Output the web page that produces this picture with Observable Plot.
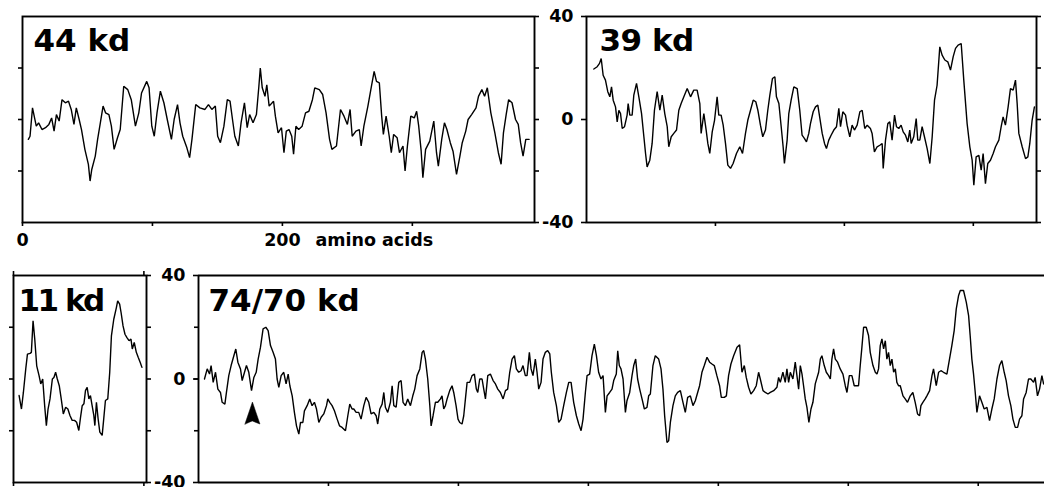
<!DOCTYPE html>
<html>
<head>
<meta charset="utf-8">
<script src="https://cdn.jsdelivr.net/npm/d3@7"></script>
<script src="https://cdn.jsdelivr.net/npm/@observablehq/plot@0.6"></script>
<style>
html, body { margin: 0; padding: 0; background: #fff; }
#chart { position: relative; width: 1044px; height: 487px; overflow: hidden; background: #fff; }
#chart svg { position: absolute; }
</style>
</head>
<body>
<div id="chart"></div>
<script>
// ---------- data (residue number, hydropathy value) ----------
const panelNames = ["44 kd", "39 kd", "11 kd", "74/70 kd"];
const panelLengths = [394, 349, 102, 651];
const yTicksLabeled = [-40, 0, 40];
const yTicksInner = [-20, 0, 20];
const yTicksAll = [-40, -20, 0, 20, 40];
const xTicksTop = [0, 100, 200, 300];
const xTicksLong = [100, 200, 300, 400, 500, 600];
const xTickLabels = [0, 200];
const xAxisTitle = "amino acids";
const arrowResidue = [41.5];
const arrowBaseValue = [-17.4];

const residues44 = [4.5,5.8,7.7,9.0,10.6,12.4,15.0,17.7,20.3,22.4,
24.3,26.1,28.2,30.4,33.0,35.4,37.5,39.6,41.4,43.6,
45.4,48.0,50.7,52.0,53.3,56.0,57.8,59.9,62.0,63.9,
66.5,68.4,70.5,73.1,75.2,77.9,81.0,83.7,86.9,89.5,
91.6,95.6,97.4,99.5,101.4,103.5,106.1,108.8,111.4,114.6,
116.7,119.3,121.2,123.3,126.5,128.6,130.4,133.3,136.5,140.4,
143.1,145.7,148.4,150.2,152.3,155.0,157.6,159.7,161.6,163.4,
166.1,168.2,170.8,172.9,174.8,177.4,180.0,181.9,183.0,184.5,
186.6,188.0,189.8,193.2,194.6,196.7,199.3,201.2,203.0,205.1,
207.2,208.6,210.4,212.5,215.2,217.8,220.4,223.1,224.9,228.4,
231.0,233.6,236.3,238.1,241.6,244.7,247.4,250.0,252.1,253.7,
256.6,259.2,260.6,262.7,265.8,268.5,270.6,272.4,274.6,276.4,
277.7,279.8,282.2,283.8,285.6,288.3,290.1,292.8,294.4,296.2,
298.8,301.5,303.3,304.9,306.8,308.1,310.2,313.4,316.5,318.6,
320.0,322.6,324.7,326.6,329.2,331.3,334.0,336.6,338.4,341.1,
342.9,345.6,349.0,350.9,353.5,355.6,357.7,360.4,363.5,366.2,
368.3,370.1,372.2,374.1,376.7,379.4,381.5,383.3,385.2,387.3,
389.9];
const hydro44 = [-7.7,-6.5,4.5,1.3,-2.6,-1.3,-3.9,-3.2,-1.9,0.6,
-4.5,1.9,-0.6,7.7,6.5,7.1,3.9,-1.9,4.5,0,
-3.9,-11.6,-17.4,-23.9,-19.4,-14.2,-7.7,-1.3,5.2,2.6,
1.9,-2.6,-11.6,-7.1,-3.9,12.9,11.6,7.7,-2.6,2.6,
10.3,14.8,12.3,-2.6,-6.5,2.6,11.0,6.5,0,-7.7,
0,5.8,-1.3,-6.5,-11.0,-14.8,-7.7,5.8,4.5,3.9,
5.8,3.9,5.2,-6.5,-9.0,-2.6,7.7,7.1,0,-6.5,
-10.3,-1.3,6.5,-3.2,1.9,-1.3,1.9,12.9,20.0,12.3,
9.0,13.5,5.2,7.1,1.3,-5.2,-3.2,-12.9,-4.5,-3.9,
-6.5,-13.5,-2.6,-3.9,-2.6,2.6,3.2,7.7,12.3,11.6,
9.7,2.6,-7.7,-11.6,-10.3,3.9,1.3,-1.9,3.9,-6.5,
-4.5,-3.9,-10.3,-2.6,5.2,12.9,18.7,14.8,14.2,1.3,
-5.8,1.3,-6.5,-12.9,-5.8,-7.1,-12.9,-10.3,-20.0,-10.3,
1.3,0.6,3.2,-2.6,-12.3,-22.6,-11.6,-8.4,-0.6,-12.9,
-18.1,-7.7,-1.3,-3.9,-9.0,-12.3,-21.3,-14.2,-9.0,-4.5,
0,1.9,4.5,9.0,11.6,9.0,12.3,2.6,-5.2,-12.9,
-17.4,-5.2,1.9,7.7,6.5,0,-1.9,-9.0,-14.2,-7.7,
-7.7];

const residues39 = [5.7,8.3,10.1,11.4,12.9,14.7,16.5,18.1,19.4,20.7,
22.5,23.8,25.1,26.4,27.7,29.5,31.5,32.3,33.6,35.4,
36.7,38.8,40.6,42.7,44.5,45.8,47.0,49.1,50.9,52.7,
54.8,56.9,58.7,60.7,62.6,63.8,65.7,67.7,69.8,71.6,
73.4,75.5,78.1,80.7,83.2,85.8,87.9,88.9,91.0,92.8,
94.1,95.6,97.5,99.3,101.3,102.6,104.4,106.0,107.8,109.6,
111.7,113.7,116.3,118.9,121.0,123.3,125.1,127.2,129.3,131.3,
132.9,134.9,136.7,138.8,140.6,142.2,144.2,146.1,147.3,149.2,
151.0,152.5,153.5,155.6,156.9,158.7,160.8,163.4,165.4,167.2,
169.1,170.6,172.4,173.7,175.8,177.6,179.4,181.0,182.8,184.6,
186.1,187.9,189.7,191.8,193.9,195.7,197.0,198.8,200.9,202.1,
204.2,206.0,207.8,209.9,212.0,213.8,215.8,217.7,220.2,221.5,
223.3,225.4,227.5,229.3,230.1,231.9,233.7,235.2,237.0,238.9,
240.4,242.2,244.0,245.6,247.4,249.2,250.7,251.8,253.8,255.7,
256.9,258.5,260.3,262.1,264.2,266.3,268.1,269.9,271.9,274.0,
275.8,277.9,280.2,282.3,284.4,286.2,288.2,290.6,292.6,295.2,
297.3,299.1,300.4,302.2,304.3,306.1,307.6,309.4,311.2,313.3,
315.4,317.2,319.8,321.6,323.1,324.9,327.0,328.8,330.9,332.7,
334.0,335.3,337.9,340.5,342.3,343.8,345.6,347.4];
const hydro39 = [19.6,20.5,21.8,23.7,17.2,15.3,10.8,8.8,12.7,7.5,
4.9,-0.9,3.6,2.3,-3.5,-2.8,1.7,6.2,1.7,1.7,
9.5,14.0,8.8,2.3,-6.7,-13.2,-18.4,-15.8,-9.3,3.6,
10.8,3.6,9.5,2.3,-2.8,-10.6,-6.7,-5.4,-4.1,3.6,
6.2,8.8,12.0,8.8,11.4,11.4,6.2,-5.4,2.3,-4.1,
-9.3,-13.2,-4.8,-0.3,8.8,1.7,1.7,-2.2,-9.3,-17.7,
-19.0,-17.1,-13.2,-10.6,-13.2,-5.4,-0.3,3.6,7.5,6.9,
3.6,-2.2,-6.7,-4.1,3.6,9.5,15.9,16.6,8.8,6.2,
-2.8,-10.6,-17.1,-8.0,2.3,7.5,12.7,12.0,3.6,-6.1,
-7.4,-8.7,-5.4,-1.6,3.0,4.9,5.6,0.4,-5.4,-9.3,
-11.3,-8.0,-6.1,-4.1,-2.8,4.3,-2.8,3.0,1.7,-2.2,
-6.7,-2.2,-4.1,-2.2,3.0,3.6,-3.5,-2.2,-3.5,-5.4,
-12.6,-10.6,-10.0,-9.3,-19.0,-8.0,-1.6,-0.9,-8.0,1.7,
-2.8,-3.5,-2.2,-4.8,-6.1,-8.7,-4.1,-9.3,-6.7,0.4,
-8.0,-8.0,-2.8,-6.7,-11.3,-17.1,-6.7,7.5,13.3,28.2,
25.0,23.1,22.4,19.2,24.4,27.6,28.9,29.5,15.3,-1.6,
-10.6,-15.8,-25.5,-14.5,-13.9,-19.7,-13.2,-24.9,-17.1,-15.8,
-13.2,-10.6,-8.0,-2.8,1.0,-2.2,4.9,12.0,11.4,15.3,
6.2,-5.4,-10.6,-15.2,-14.5,-9.3,-0.3,4.9];

const residues11 = [4.3,6.1,7.6,9.4,10.7,12.7,13.7,15.0,16.3,17.8,
19.6,20.9,22.4,23.9,25.2,26.5,28.0,29.8,31.0,32.3,
33.6,35.1,36.6,38.2,40.0,41.7,43.3,45.0,46.8,48.4,
50.1,51.4,52.7,54.0,55.2,56.5,57.8,59.0,60.3,61.6,
62.4,63.6,64.9,66.2,68.0,69.2,70.5,72.3,73.8,75.1,
76.9,78.9,79.9,81.4,82.5,84.0,85.5,87.0,88.6,90.1,
91.1,92.6,94.2,95.7,97.2,98.5];
const hydro11 = [-6.4,-11.6,-5.1,3.9,9.6,9.9,10.3,22.5,15.4,5.1,
1.3,-1.9,0,-10.3,-18.0,-11.6,-7.7,0,0.6,2.6,
0,-2.6,-7.7,-13.5,-10.9,-11.6,-14.1,-16.0,-16.0,-16.7,
-19.9,-14.8,-10.3,-9.6,-4.5,-3.2,-7.7,-6.4,-10.3,-14.1,
-18.0,-9.0,-15.4,-20.5,-21.8,-15.4,-8.3,-7.7,2.6,16.7,
23.1,27.6,30.2,28.9,25.7,20.5,17.3,16.0,14.8,15.4,
11.6,14.1,10.3,8.3,6.4,4.5];

const residues74a = [4.6,6.7,8.5,9.7,11.3,13.1,14.9,16.9,18.2,20.3,
21.5,23.3,25.1,27.2,28.7,30.3,32.3,33.6,35.4,36.9,
38.7,40.8,42.6,44.4,45.9,47.7,49.7,51.8,53.6,55.4,
57.4,59.2,60.5,61.8,63.6,65.6,67.4,69.0,70.3,72.1,
73.8,75.4,77.2,78.5,80.3,81.5,83.6,85.6,87.4,89.2,
90.8,92.6,94.4,96.4,98.5,99.5,101.0,102.8,104.6,106.7,
108.5,110.5,113.1,114.9,116.4,118.2,119.5,121.3,123.3,125.1,
127.2,129.0,131.0,132.8,134.9,136.7,137.9,139.5,141.3,142.6,
143.8,145.6,147.7,149.0,150.3,152.1,154.1,155.9,157.4,159.2,
161.0,163.1,164.9,166.4,168.2,170.3,172.1,173.3,174.6,176.4,
178.0,179.0,180.5,182.3,184.1,186.2,187.4,188.7,190.0,191.3,
193.3,195.1,196.4,198.2,199.7,201.0,202.8,204.1,205.4,206.7,
208.7,210.5,212.3,213.8,214.9,216.4,218.2,219.5,220.8,222.6,
224.6,226.7,228.5,230.3,232.3,234.4,236.2,237.9,239.5,241.3,
243.1,244.6,246.4,248.2,249.7,251.5,252.8,254.6,255.9,257.4,
259.2,260.5,261.8,263.6,265.1,266.9,268.7,270.3,271.5,273.3,
275.4,277.2,279.0,281.0,283.1,284.9,286.7,288.7,290.8,292.6,
294.4,295.9,297.7,299.0,301.0,302.8,304.6,306.2,307.9,309.7,
311.3,313.1,314.4,316.4,318.2,319.5,321.5,322.6,323.8];
const hydro74a = [0,3.9,1.9,5.2,-1.3,2.6,-3.9,-5.2,-9.0,-9.7,
-5.2,1.3,5.2,9.0,11.6,6.5,3.9,-0.6,2.6,5.2,
2.6,-4.5,0.6,2.6,7.7,12.3,19.4,20.0,18.7,12.9,
10.3,7.7,0,-3.2,1.3,2.6,-1.9,1.9,-2.6,-6.5,
-12.9,-18.1,-21.3,-16.8,-16.8,-12.3,-10.3,-7.7,-10.3,-9.0,
-11.6,-16.8,-14.8,-13.5,-10.3,-7.7,-9.0,-10.3,-12.3,-15.5,
-18.1,-18.7,-20.0,-14.2,-9.7,-11.6,-11.6,-12.9,-12.9,-15.5,
-10.3,-7.1,-9.0,-13.5,-12.9,-14.2,-17.4,-11.6,-9.7,-5.2,
-10.9,-12.9,-9.0,-2.6,-10.3,-10.9,-1.3,-0.6,-9.0,-10.3,
-7.7,-10.3,-6.5,-3.9,1.3,3.9,10.3,11.0,7.7,0,
-10.3,-18.1,-14.2,-9.0,-9.0,-7.7,-6.5,-11.6,-10.3,-7.7,
-4.5,-2.6,-5.2,-10.3,-15.5,-16.8,-17.4,-14.2,-7.7,-1.3,
-1.3,1.3,1.9,-3.9,-5.2,0,0,-3.9,-7.7,1.3,
1.9,-0.6,-1.9,-3.9,-5.2,-7.7,-4.5,-3.9,2.6,7.7,
9.0,3.9,2.6,3.2,5.2,1.3,1.3,10.3,3.9,1.3,
7.7,2.6,-3.9,-1.3,7.7,10.3,11.0,9.7,2.6,-5.2,
-10.3,-16.8,-15.5,-10.3,-5.2,-1.3,-1.3,-9.0,-14.2,-17.4,
-20.0,-15.5,-5.2,1.3,1.9,9.0,13.5,9.0,2.6,0,
1.3,-12.9,-6.5,-5.2,-3.9,-0.6,1.9,10.9,5.2];

const residues74b = [325.1,326.7,328.5,329.7,331.8,333.6,334.9,336.4,337.9,339.5,
341.3,343.1,345.1,346.4,347.7,349.7,351.5,354.1,355.9,357.4,
358.7,360.5,361.8,363.1,365.1,366.9,368.7,370.8,372.8,374.6,
376.4,378.5,380.5,382.3,384.1,385.6,387.4,389.2,391.3,393.3,
395.1,396.9,398.9,401.0,402.3,404.6,406.2,407.9,409.7,411.8,
414.4,416.4,418.2,420.0,421.5,423.3,425.1,427.2,429.2,431.0,
432.3,434.4,436.2,438.2,440.0,442.6,445.1,446.4,447.7,449.7,
451.5,452.8,454.1,455.4,457.4,459.2,460.5,461.8,463.1,464.4,
465.6,466.9,468.2,469.7,471.3,472.8,474.6,477.2,478.5,479.7,
481.5,483.1,484.9,486.2,487.4,488.7,490.0,491.8,493.8,495.9,
497.7,499.0,500.8,502.8,504.6,506.7,507.9,509.2,510.5,511.8,
513.8,515.6,516.9,519.0,520.8,522.1,523.3,524.6,525.9,527.2,
528.5,529.7,531.0,532.3,533.6,534.9,536.2,537.4,538.7,540.0,
542.1,543.8,545.6,547.7,549.7,551.5,553.3,554.9,555.9,557.4,
559.2,560.5,562.6,564.4,565.6,567.7,569.5,571.3,573.3,575.9,
577.9,579.7,581.5,583.1,584.9,586.2,588.7,590.8,592.6,593.8,
595.1,596.4,597.7,599.0,601.0,602.8,604.6,606.7,608.7,610.5,
612.3,614.4,616.4,618.2,620.0,621.5,623.3,625.1,626.7,628.5,
630.3,631.8,633.6,634.9,636.9,638.7,640.5,642.6,643.8,645.6,
647.2,649.0,650.3];
const hydro74b = [3.9,0,-12.9,-8.4,-5.2,1.3,5.2,7.7,0,-3.9,
-7.7,-11.6,-11.0,-6.5,-5.8,5.2,9.0,7.7,3.9,-3.9,
-14.2,-24.5,-23.9,-16.8,-10.3,-6.5,-5.2,-4.5,-9.0,-12.9,
-7.1,-6.5,-10.3,-8.4,-5.2,-2.6,2.6,5.2,8.4,6.5,
5.8,5.2,1.3,-2.6,-7.1,-7.1,-6.5,1.3,5.8,9.0,
12.3,13.2,2.6,5.2,0.6,-3.2,-5.8,-4.5,-2.6,2.6,
0,-4.5,-5.2,-5.8,-5.2,-4.5,-3.2,0.6,-1.3,2.6,
-1.3,3.9,-1.3,2.6,0,6.5,1.3,-3.9,5.2,1.9,
-2.6,-7.7,-11.0,-16.8,-11.6,-9.0,-1.9,2.6,7.7,9.0,
5.2,2.6,1.3,0,7.7,11.6,7.7,6.5,3.9,1.9,
-2.6,-5.2,1.3,1.3,-2.6,-2.6,-2.6,5.2,12.3,20.0,
20.0,16.8,10.3,5.2,2.6,1.9,3.9,12.9,15.5,11.6,
14.8,7.7,10.3,5.2,7.7,2.6,3.9,-1.3,-2.6,-2.6,
-6.5,-7.7,-9.0,-6.5,-5.2,-9.0,-13.5,-14.2,-10.3,-9.0,
-7.7,-6.5,-4.5,1.3,3.9,-2.6,2.6,3.2,2.6,1.9,
7.7,12.9,18.7,27.1,32.3,34.2,34.2,29.7,24.5,16.8,
7.7,1.9,-5.2,-12.9,-6.5,-9.0,-11.6,-11.0,-16.1,-11.6,
-7.7,0,5.2,7.1,2.6,-0.6,-6.5,-10.3,-15.5,-18.7,
-18.7,-15.5,-14.2,-7.7,-5.2,0,0,-1.3,0.6,-6.5,
-3.9,1.3,-1.9];

// ---------- build ----------
const toRows = (xs, ys) => d3.zip(xs, ys).map(([aa, h]) => ({aa, h}));
const series = [
  toRows(residues44, hydro44),
  toRows(residues39, hydro39),
  toRows(residues11, hydro11),
  toRows(residues74a.concat(residues74b), hydro74a.concat(hydro74b))
];

const chart = document.getElementById("chart");
const FONT = "'DejaVu Sans', 'Liberation Sans', Arial, sans-serif";
const FRAME_W = 1.9;
const TICK_W = 1.6;
const AXIS_FS = 17.5;
const noLabel = () => "";

const arrowShape = {
  draw(context, l, r) {
    context.moveTo(-r, 0);
    context.lineTo(0, -l);
    context.lineTo(r, 0);
    context.lineTo(0, -3);
    context.closePath();
  }
};

function panel(i, cfg) {
  const svg = Plot.plot({
    width: cfg.width,
    height: cfg.height,
    marginLeft: cfg.mL,
    marginRight: cfg.mR,
    marginTop: cfg.mT,
    marginBottom: cfg.mB,
    x: {domain: [0, panelLengths[i]], label: null},
    y: {domain: [-40, 40], label: null},
    style: {fontFamily: FONT, fontWeight: "bold", fontSize: AXIS_FS + "px", background: "transparent", color: "black", overflow: "visible"},
    marks: [
      ...cfg.marks,
      Plot.line(series[i], {x: "aa", y: "h", stroke: "black", strokeWidth: 1.4, strokeLinejoin: "miter"}),
      Plot.text([panelNames[i]], {
        frameAnchor: "top-left", text: d => d, dx: cfg.tDx, dy: cfg.tDy,
        fontSize: 31, fontWeight: "bold", lineAnchor: "top", textAnchor: "start", fill: "black"
      })
    ]
  });
  d3.select(svg).selectAll("text")
    .filter(function () { return this.textContent === panelNames[i]; })
    .style("letter-spacing", cfg.ls + "px");
  svg.style.left = cfg.left + "px";
  svg.style.top = cfg.top + "px";
  chart.appendChild(svg);
}

// 44 kd
panel(0, {
  left: 0, top: 0, width: 545, height: 260, mL: 22, mR: 11, mT: 16, mB: 38,
  tDx: 11, tDy: 12, ls: 0,
  marks: [
    Plot.frame({stroke: "black", strokeWidth: FRAME_W}),
    Plot.axisY({anchor: "left", ticks: yTicksInner, tickSize: 4, tickFormat: noLabel, label: null, strokeWidth: TICK_W}),
    Plot.axisY({anchor: "right", ticks: yTicksAll, tickSize: 4, tickFormat: noLabel, label: null, strokeWidth: TICK_W}),
    Plot.axisX({anchor: "bottom", ticks: xTicksTop, tickSize: 4, tickPadding: 7, label: null, strokeWidth: TICK_W,
      tickFormat: d => xTickLabels.includes(d) ? String(d) : ""}),
    Plot.text([xAxisTitle], {x: xTickLabels[1], frameAnchor: "bottom", lineAnchor: "top", textAnchor: "start",
      dx: 33, dy: 11, text: d => d, fontSize: AXIS_FS, fontWeight: "bold", fill: "black"})
  ]
});

// 39 kd
panel(1, {
  left: 540, top: 0, width: 504, height: 260, mL: 46, mR: 8, mT: 16, mB: 38,
  tDx: 13, tDy: 12, ls: -0.5,
  marks: [
    Plot.frame({stroke: "black", strokeWidth: FRAME_W}),
    Plot.axisY({anchor: "left", ticks: yTicksLabeled, tickSize: 5, tickPadding: 8, label: null, strokeWidth: TICK_W,
      tickFormat: d => String(d)}),
    Plot.axisY({anchor: "right", ticks: yTicksAll, tickSize: 4, tickFormat: noLabel, label: null, strokeWidth: TICK_W}),
    Plot.axisX({anchor: "bottom", ticks: xTicksTop.slice(1), tickSize: 4, tickFormat: noLabel, label: null, strokeWidth: TICK_W})
  ]
});

// 11 kd
panel(2, {
  left: 0, top: 260, width: 150, height: 227, mL: 13, mR: 4, mT: 15, mB: 5,
  tDx: 5, tDy: 13, ls: -2.5,
  marks: [
    Plot.frame({stroke: "black", strokeWidth: FRAME_W}),
    Plot.axisY({anchor: "left", ticks: yTicksInner, tickSize: 4, tickFormat: noLabel, label: null, strokeWidth: TICK_W}),
    Plot.axisY({anchor: "right", ticks: yTicksAll, tickSize: 4, tickFormat: noLabel, label: null, strokeWidth: TICK_W}),
    Plot.axisX({anchor: "top", ticks: xTicksTop.slice(0, 2), tickSize: 5, tickFormat: noLabel, label: null, strokeWidth: TICK_W}),
    Plot.axisX({anchor: "bottom", ticks: xTicksTop.slice(0, 2), tickSize: 4, tickFormat: noLabel, label: null, strokeWidth: TICK_W})
  ]
});

// 74/70 kd
panel(3, {
  left: 150, top: 260, width: 894, height: 227, mL: 48, mR: 0, mT: 15, mB: 5,
  tDx: 10, tDy: 13, ls: 0,
  marks: [
    Plot.ruleY([-40, 40], {stroke: "black", strokeWidth: FRAME_W}),
    Plot.ruleX([0], {stroke: "black", strokeWidth: FRAME_W}),
    Plot.axisY({anchor: "left", ticks: yTicksLabeled, tickSize: 5, tickPadding: 8, label: null, strokeWidth: TICK_W,
      tickFormat: d => String(d)}),
    Plot.axisY({anchor: "left", ticks: yTicksInner, tickSize: 4, tickFormat: noLabel, label: null, strokeWidth: TICK_W}),
    Plot.axisX({anchor: "bottom", ticks: xTicksLong, tickSize: 4, tickFormat: noLabel, label: null, strokeWidth: TICK_W}),
    Plot.vector(d3.zip(arrowResidue, arrowBaseValue).map(([aa, h]) => ({aa, h})), {
      x: "aa", y: "h", length: 22, r: 7.5, anchor: "start", shape: arrowShape,
      fill: "black", stroke: "black", strokeWidth: 0.5
    })
  ]
});
</script>
</body>
</html>
